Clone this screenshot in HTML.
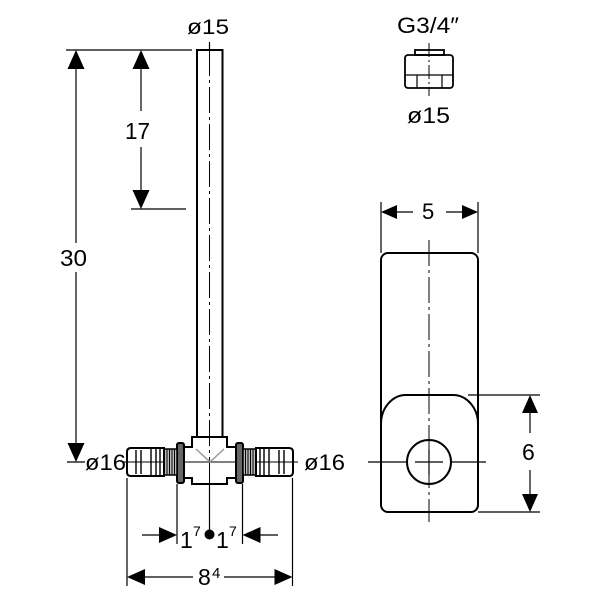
<!DOCTYPE html>
<html><head><meta charset="utf-8"><style>
html,body{margin:0;padding:0;background:#fff;}
svg{display:block;}
text{font-family:"Liberation Sans",Arial,sans-serif;fill:#000;}
</style></head><body>
<svg width="600" height="600" viewBox="0 0 600 600" xmlns="http://www.w3.org/2000/svg">
<rect width="600" height="600" fill="#fff"/>
<g stroke="#000" fill="none" stroke-width="1.2">
  <!-- 30 dimension -->
  <line x1="66" y1="50" x2="192" y2="50"/>
  <line x1="76" y1="66" x2="76" y2="243"/>
  <line x1="76" y1="272" x2="76" y2="446"/>
  <line x1="67" y1="462" x2="85" y2="462"/>
  <!-- 17 dimension -->
  <line x1="141" y1="66" x2="141" y2="111"/>
  <line x1="141" y1="147" x2="141" y2="193"/>
  <line x1="131" y1="209" x2="186" y2="209"/>
  <!-- pipe centerline -->
  <line x1="209.5" y1="42" x2="209.5" y2="50"/>
  <line x1="209.5" y1="50" x2="209.5" y2="484" stroke-dasharray="26 4 3 4" stroke-width="1"/>
  <line x1="209.5" y1="484" x2="209.5" y2="535"/>
  <!-- horizontal centerline through fittings -->
  <line x1="122" y1="462" x2="298" y2="462" stroke-width="1"/>
  <!-- bottom extension lines -->
  <line x1="127" y1="478" x2="127" y2="586"/>
  <line x1="292.5" y1="478" x2="292.5" y2="586"/>
  <line x1="177" y1="484" x2="177" y2="544"/>
  <line x1="242.5" y1="484" x2="242.5" y2="544"/>
  <!-- 1^7 dims -->
  <line x1="142" y1="535" x2="162" y2="535"/>
  <line x1="258" y1="535" x2="278" y2="535"/>
  <!-- 8^4 -->
  <line x1="143" y1="577" x2="193" y2="577"/>
  <line x1="224" y1="577" x2="276" y2="577"/>
  <!-- right view 5 dim -->
  <line x1="381" y1="202" x2="381" y2="253"/>
  <line x1="478" y1="202" x2="478" y2="253"/>
  <line x1="395" y1="212" x2="413" y2="212"/>
  <line x1="446" y1="212" x2="464" y2="212"/>
  <!-- 6 dim -->
  <line x1="468" y1="395" x2="540" y2="395"/>
  <line x1="478" y1="512" x2="540" y2="512"/>
  <line x1="530" y1="411" x2="530" y2="433"/>
  <line x1="530" y1="470" x2="530" y2="497"/>
  <!-- right view centerlines -->
  <line x1="429" y1="240" x2="429" y2="522" stroke-dasharray="26 4 3 4" stroke-width="1"/>
  <line x1="368" y1="462" x2="407" y2="462"/>
  <line x1="451" y1="462" x2="486" y2="462"/>
  <line x1="415" y1="462" x2="443" y2="462"/>
  <!-- nut centerline -->
  <line x1="429" y1="43" x2="429" y2="96" stroke-dasharray="14 3 2 3" stroke-width="1"/>
</g>

<!-- arrowheads -->
<g fill="#000" stroke="none">
  <polygon points="76,50 67.5,69 84.5,69"/>
  <polygon points="76,462 67.5,443 84.5,443"/>
  <polygon points="141,50 132.5,69 149.5,69"/>
  <polygon points="141,209 132.5,190 149.5,190"/>
  <polygon points="177,535 159,527 159,543"/>
  <polygon points="242.5,535 260.5,527 260.5,543"/>
  <polygon points="127,577 145,569 145,585"/>
  <polygon points="292.5,577 274.5,569 274.5,585"/>
  <polygon points="381,212 397,205 397,219"/>
  <polygon points="478,212 462,205 462,219"/>
  <polygon points="530,395 522,413 538,413"/>
  <polygon points="530,512 522,494 538,494"/>
  <circle cx="209.5" cy="534.5" r="5"/>
</g>

<!-- pipe -->
<rect x="197" y="50" width="25.5" height="387" fill="none" stroke="#000" stroke-width="2"/>

<!-- tee body -->
<path d="M192,437 L227,437 L227,447 L237,447 L237,478 L227,478 L227,484 L192,484 L192,478 L183,478 L183,447 L192,447 Z" fill="none" stroke="#000" stroke-width="2"/>
<polyline points="196,449 210,462 224,449" fill="none" stroke="#999" stroke-width="1.5"/>

<!-- right fitting -->
<g id="fit">
  <rect x="236" y="443" width="7" height="40" rx="2" fill="#666" stroke="#000" stroke-width="2"/>
  <rect x="243" y="449" width="13" height="26" fill="#bbb" stroke="#000" stroke-width="1.5"/>
  <g stroke="#000" stroke-width="1">
    <line x1="245.5" y1="449" x2="245.5" y2="475"/>
    <line x1="248" y1="449" x2="248" y2="475"/>
    <line x1="250.5" y1="449" x2="250.5" y2="475"/>
    <line x1="253" y1="449" x2="253" y2="475"/>
  </g>
  <path d="M256,448 L289,448 Q293,448 293,452 L293,472 Q293,476 289,476 L256,476 Z" fill="#fff" stroke="#000" stroke-width="2"/>
  <g stroke="#000" stroke-width="1.4">
    <line x1="260" y1="448" x2="260" y2="476"/>
    <line x1="264" y1="448" x2="264" y2="476"/>
    <line x1="269" y1="448" x2="269" y2="476"/>
    <line x1="279" y1="450" x2="279" y2="474"/>
    <line x1="284" y1="450" x2="284" y2="474"/>
  </g>
  <line x1="256" y1="462" x2="298" y2="462" stroke="#000" stroke-width="1"/>
</g>
<use href="#fit" transform="translate(420,0) scale(-1,1)"/>

<!-- nut -->
<g fill="none" stroke="#000" stroke-width="1.8">
  <rect x="415" y="50" width="29" height="5"/>
  <rect x="405" y="55" width="48" height="33" rx="3"/>
  <line x1="405" y1="75" x2="453" y2="75" stroke-width="1.2"/>
  <line x1="417" y1="75" x2="417" y2="88" stroke-width="1.2"/>
  <line x1="442" y1="75" x2="442" y2="88" stroke-width="1.2"/>
</g>

<!-- right view body -->
<g fill="none" stroke="#000" stroke-width="2">
  <rect x="381" y="253" width="97" height="259" rx="7"/>
  <path d="M381,424 A25,29 0 0 1 406,395 L453,395 A25,29 0 0 1 478,424"/>
  <circle cx="429" cy="462" r="22"/>
</g>
<line x1="429" y1="450" x2="429" y2="475" stroke="#000" stroke-width="1.2"/>

<!-- texts -->
<text x="187" y="34" font-size="21" textLength="42" lengthAdjust="spacingAndGlyphs">ø15</text>
<text x="125" y="139" font-size="23" textLength="25" lengthAdjust="spacingAndGlyphs">17</text>
<text x="60" y="266" font-size="23" textLength="27" lengthAdjust="spacingAndGlyphs">30</text>
<text x="85" y="470" font-size="22" textLength="41" lengthAdjust="spacingAndGlyphs">ø16</text>
<text x="304" y="470" font-size="22" textLength="41" lengthAdjust="spacingAndGlyphs">ø16</text>
<text x="397" y="33" font-size="22" textLength="62" lengthAdjust="spacingAndGlyphs">G3/4″</text>
<text x="407" y="123" font-size="22" textLength="43" lengthAdjust="spacingAndGlyphs">ø15</text>
<text x="422" y="219" font-size="22">5</text>
<text x="522" y="460" font-size="23">6</text>
<text x="180" y="548" font-size="23">1</text>
<text x="193" y="536" font-size="14">7</text>
<text x="216" y="548" font-size="23">1</text>
<text x="229" y="536" font-size="14">7</text>
<text x="198" y="585" font-size="23">8</text>
<text x="212" y="578" font-size="15">4</text>
</svg>
</body></html>
